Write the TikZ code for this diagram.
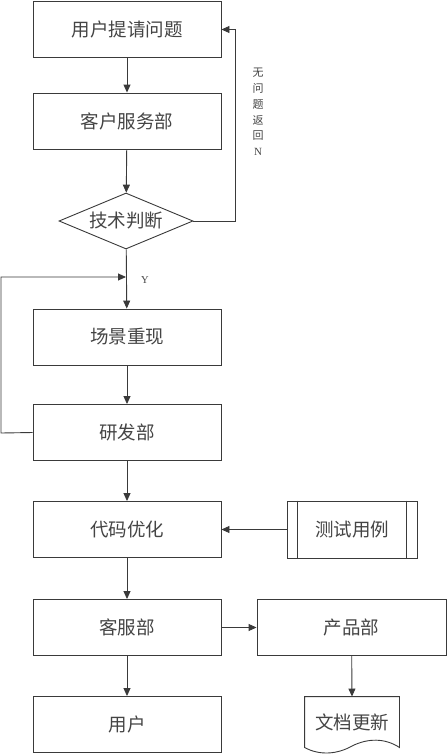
\documentclass[tikz,border=0pt]{standalone}
\usepackage{fontspec}
\newfontfamily\cjk{Noto Sans CJK SC}
\setmainfont{Liberation Serif}
\usetikzlibrary{shapes.geometric,arrows.meta}
\definecolor{ln}{HTML}{3A3A3A}
\definecolor{tx}{HTML}{444444}
\tikzset{
  box/.style={draw=ln, line width=0.9pt, minimum width=188pt, minimum height=56pt, inner sep=0pt, text=tx, font=\cjk\fontsize{18.5pt}{20pt}\selectfont},
  dia/.style={draw=ln, line width=0.9pt, shape=diamond, aspect=2.4, minimum width=134pt, minimum height=56pt, inner sep=0pt, text=tx, font=\cjk\fontsize{18.5pt}{20pt}\selectfont},
  conn/.style={draw=ln, line width=0.9pt},
  arr/.style={conn, -{Triangle[length=8pt,width=7pt]}},
  lbl/.style={text=tx, inner sep=0pt}
}
\begin{document}
\begin{tikzpicture}[x=1pt,y=-1pt]
\useasboundingbox (0,0) rectangle (447,755);
\node[box] (b1) at (127,29.5) {用户提请问题};
\node[box] (b2) at (127,121) {客户服务部};
\node[dia] (d) at (126,221) {技术判断};
\node[box] (b3) at (127,337) {场景重现};
\node[box] (b4) at (127,432.5) {研发部};
\node[box] (b5) at (127,529.5) {代码优化};
\node[box, minimum width=130pt, minimum height=57pt] (t) at (352,529.5) {测试用例};
\draw[conn] ([xshift=11pt]t.north west) -- ([xshift=11pt]t.south west);
\draw[conn] ([xshift=-11pt]t.north east) -- ([xshift=-11pt]t.south east);
\node[box] (b6) at (127,627.5) {客服部};
\node[box, minimum width=189pt] (p) at (351.5,627.5) {产品部};
\node[box] (b7) at (127,724.5) {用户};
% document shape
\node[box, draw=none, minimum width=94pt, minimum height=50pt] (doc) at (352,722) {\raisebox{1pt}{文档更新}};
\draw[conn] (doc.south west) -- (doc.north west) -- (doc.north east) -- (doc.south east)
  .. controls (385,738) and (368,738) .. (352,746)
  .. controls (338,754) and (320,756) .. (doc.south west) -- cycle;
% connectors
\draw[arr] (b1) -- (b2);
\draw[arr] (b2) -- (d);
\draw[arr] (d) -- (b3);
\coordinate (ret) at (235,221);
\draw[arr] (d.east) -- (ret) |- (b1.east);
\node[lbl, font=\cjk\fontsize{11pt}{15.8pt}\selectfont, align=center] (nl) at (258,112) {无\\问\\题\\返\\回\\{\rmfamily N}};
\coordinate (lp) at (1,433);
\coordinate (mg) at (126,277);
\draw[arr] (b4.west) -- (lp) |- (mg);
\node[lbl, font=\fontsize{10.5pt}{12pt}\selectfont] (y) at (145,280) {Y};
\draw[arr] (b3) -- (b4);
\draw[arr] (b4) -- (b5);
\draw[arr] (t) -- (b5);
\draw[arr] (b5) -- (b6);
\draw[arr] (b6) -- (p);
\draw[arr] (b6) -- (b7);
\draw[arr] (p) -- (doc.north);
\end{tikzpicture}
\end{document}
